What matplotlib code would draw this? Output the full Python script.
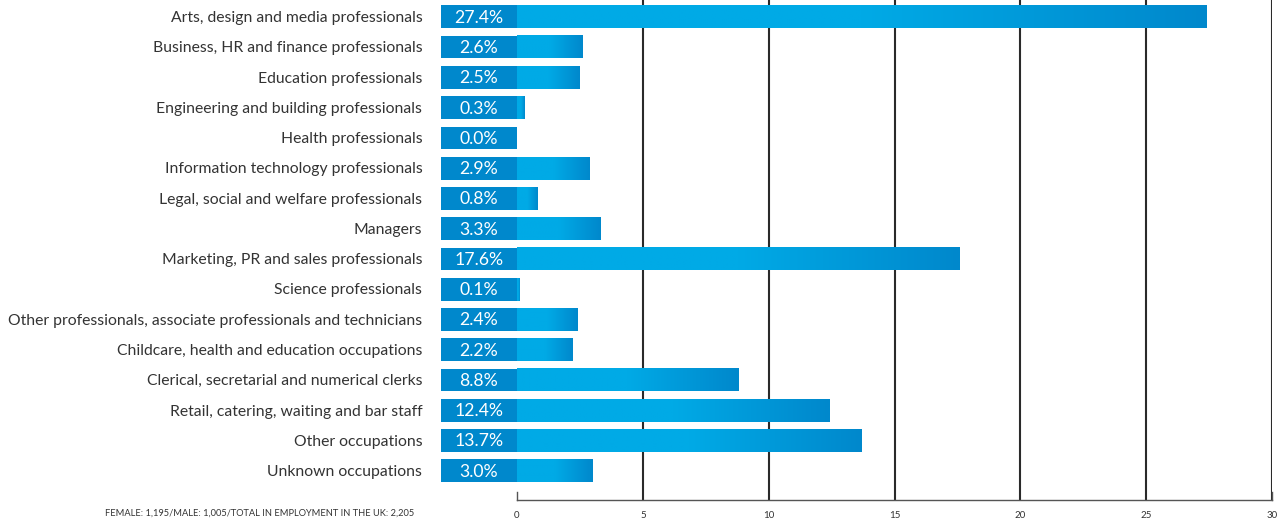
import numpy as np
import matplotlib
matplotlib.use("Agg")
import matplotlib.pyplot as plt
from matplotlib.colors import LinearSegmentedColormap

categories = [
    "Arts, design and media professionals",
    "Business, HR and finance professionals",
    "Education professionals",
    "Engineering and building professionals",
    "Health professionals",
    "Information technology professionals",
    "Legal, social and welfare professionals",
    "Managers",
    "Marketing, PR and sales professionals",
    "Science professionals",
    "Other professionals, associate professionals and technicians",
    "Childcare, health and education occupations",
    "Clerical, secretarial and numerical clerks",
    "Retail, catering, waiting and bar staff",
    "Other occupations",
    "Unknown occupations",
]
values = [27.4, 2.6, 2.5, 0.3, 0.0, 2.9, 0.8, 3.3, 17.6, 0.1, 2.4, 2.2, 8.8, 12.4, 13.7, 3.0]
xticks = [0, 5, 10, 15, 20, 25, 30]
footnote = "FEMALE: 1,195/MALE: 1,005/TOTAL IN EMPLOYMENT IN THE UK: 2,205"

plt.rcParams['font.family'] = ['Lato', 'DejaVu Sans']

W, H = 1282, 521
fig = plt.figure(figsize=(W / 100, H / 100), dpi=100)
x0_px, x1_px = 517, 1272
y_top, y_bot = 0, 500
ax = fig.add_axes([x0_px / W, (H - y_bot) / H, (x1_px - x0_px) / W, (y_bot - y_top) / H])

row_px0, row_step = 16.8, 30.27
n = len(categories)
ylim = ((y_bot - row_px0) / row_step, (y_top - row_px0) / row_step)

light = "#00aae6"
dark = "#0088cc"
cmap = LinearSegmentedColormap.from_list("barfade", [light, light, dark])
grad = np.linspace(0, 1, 256).reshape(1, -1)

bar_h = 0.75
box_left = -3.02

# gridlines behind bars
for t in xticks[1:]:
    ax.axvline(t, color="#2a2a2a", lw=1.5, zorder=1)

for i, (cat, v) in enumerate(zip(categories, values)):
    yb, yt = i - bar_h / 2, i + bar_h / 2
    if v > 0:
        ax.imshow(grad, cmap=cmap, aspect="auto", extent=(0, v, yt, yb),
                  interpolation="bilinear", zorder=2)
    # value box left of zero
    ax.add_patch(plt.Rectangle((box_left, yb), -box_left, bar_h, color=dark,
                               clip_on=False, zorder=3, lw=0))
    ax.text(box_left / 2, i + 0.03, f"{v:.1f}%", color="white", fontsize=12.7,
            ha="center", va="center", zorder=4, clip_on=False)
    ax.text(-3.76, i + 0.04, cat, color="#333333", fontsize=11.3, ha="right",
            va="center", clip_on=False)

ax.set_xlim(0, 30)
ax.set_ylim(*ylim)

for s in ["top", "right", "left"]:
    ax.spines[s].set_visible(False)
ax.spines["bottom"].set_color("#555555")
ax.spines["bottom"].set_linewidth(1)
ax.set_yticks([])
ax.set_xticks(xticks)
ax.set_xticklabels([str(t) for t in xticks])
ax.tick_params(axis="x", direction="in", length=0, pad=8, labelsize=7,
               labelcolor="#333333")
# end ticks at 0 and 30
for t in (0, 30):
    ax.plot([t, t], [ylim[0], ylim[0] - 0.25], color="#555555",
            lw=1, clip_on=False, zorder=5)

fig.text(414 / W, 1 - 513 / H, footnote, fontsize=6.7, color="#333333",
         ha="right", va="center")

fig.savefig("out.png", dpi=100)
